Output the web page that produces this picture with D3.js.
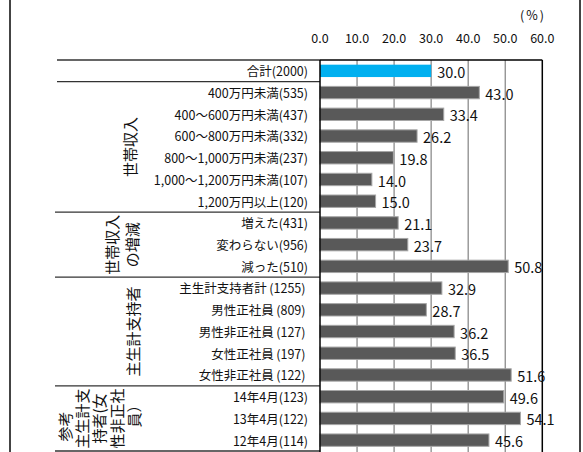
<!DOCTYPE html>
<html><head><meta charset="utf-8">
<script src="https://cdn.jsdelivr.net/npm/d3@7"></script>
<style>
html,body{margin:0;padding:0;background:#fff;}
svg{display:block;font-family:"Noto Sans CJK JP","Noto Sans",sans-serif;}
</style></head>
<body>
<svg id="c" width="583" height="452"></svg>
<script>
const categories = ["合計(2000)", "400万円未満(535)", "400～600万円未満(437)", "600～800万円未満(332)", "800～1,000万円未満(237)", "1,000～1,200万円未満(107)", "1,200万円以上(120)", "増えた(431)", "変わらない(956)", "減った(510)", "主生計支持者計\u2009(1255)\u2009", "男性正社員\u2009(809)\u2009", "男性非正社員\u2009(127)\u2009", "女性正社員\u2009(197)\u2009", "女性非正社員\u2009(122)\u2009", "14年4月(123)", "13年4月(122)", "12年4月(114)"];
const values = [30.0, 43.0, 33.4, 26.2, 19.8, 14.0, 15.0, 21.1, 23.7, 50.8, 32.9, 28.7, 36.2, 36.5, 51.6, 49.6, 54.1, 45.6];
const tickValues = [0, 10, 20, 30, 40, 50, 60];
const tickLabels = ["0.0", "10.0", "20.0", "30.0", "40.0", "50.0", "60.0"];
const groupStarts = [0, 1, 7, 10, 15, 18];
const groupLabels = [["世帯収入"], ["世帯収入", "の増減"], ["主生計支持者"], ["参考", "主生計支", "持者(女", "性非正社", "員）"]];
const groupRanges = [[1, 7], [7, 10], [10, 15], [15, 18]];
const unitLabel = "(%)";

const svg = d3.select("#c");
const x = d3.scaleLinear().domain([0, 60]).range([320, 542.3]);
const p = 0.43;
const y = d3.scaleBand().domain(categories).range([60, 451]).paddingInner(p).paddingOuter(p / 2);
const step = y.step();
const rowTop = i => 60 + i * step;

// outer frame
svg.append("line").attr("x1", 10).attr("x2", 10).attr("y1", 0).attr("y2", 452).attr("stroke", "#444").attr("stroke-width", 2);
svg.append("line").attr("x1", 580).attr("x2", 580).attr("y1", 0).attr("y2", 452).attr("stroke", "#444").attr("stroke-width", 2);

// gridlines
svg.append("g").selectAll("line").data(tickValues.slice(1, -1)).join("line")
  .attr("x1", d => x(d)).attr("x2", d => x(d)).attr("y1", 60).attr("y2", 452)
  .attr("stroke", "#8c8c8c").attr("stroke-width", 1.3);

// table separator lines
svg.append("g").selectAll("line").data(groupStarts).join("line")
  .attr("x1", (d, i) => i < 2 ? 57 : 55).attr("x2", 320)
  .attr("y1", d => rowTop(d)).attr("y2", d => rowTop(d))
  .attr("stroke", "#333").attr("stroke-width", 1.3);

// bars
svg.append("g").selectAll("rect").data(values).join("rect")
  .attr("x", x(0)).attr("y", (d, i) => y(categories[i]))
  .attr("width", d => x(d) - x(0)).attr("height", y.bandwidth())
  .attr("fill", (d, i) => i === 0 ? "#00b0f0" : "#595959")
  .attr("stroke", (d, i) => i === 0 ? "none" : "#a6a6a6").attr("stroke-width", 1);

// plot border (top, right, left axis)
svg.append("line").attr("x1", x(0)).attr("x2", x(60)).attr("y1", 60).attr("y2", 60).attr("stroke", "#000").attr("stroke-width", 1.5);
svg.append("line").attr("x1", x(60)).attr("x2", x(60)).attr("y1", 60).attr("y2", 452).attr("stroke", "#000").attr("stroke-width", 1.5);
svg.append("line").attr("x1", x(0)).attr("x2", x(0)).attr("y1", 60).attr("y2", 452).attr("stroke", "#000").attr("stroke-width", 1.5);

// tick labels
svg.append("g").selectAll("text").data(tickValues).join("text")
  .attr("x", d => x(d)).attr("y", 38.5).attr("dy", "0.35em")
  .attr("text-anchor", "middle").attr("font-size", 12.5).attr("fill", "#111")
  .text((d, i) => tickLabels[i]);

svg.append("text").attr("x", 533).attr("y", 16).attr("dy", "0.35em")
  .attr("text-anchor", "middle").attr("font-size", 12.5).attr("letter-spacing", 2).attr("fill", "#111").text(unitLabel);

// category labels
svg.append("g").selectAll("text").data(categories).join("text")
  .attr("x", 308).attr("y", d => y(d) + y.bandwidth() / 2 + 1).attr("dy", "0.35em")
  .attr("text-anchor", "end").attr("font-size", 12.5).attr("fill", "#111")
  .text(d => d);

// value labels
svg.append("g").selectAll("text").data(values).join("text")
  .attr("x", d => x(d) + 6).attr("y", (d, i) => y(categories[i]) + y.bandwidth() / 2 + 2).attr("dy", "0.35em")
  .attr("font-size", 14.5).attr("fill", "#111")
  .text(d => d.toFixed(1));

// group labels (rotated)
const groupX = [[131], [113, 133], [134], [66, 83, 100, 118, 135]];
const groupShift = [[0], [0, 0], [0], [8, 0, 0, 0, -6]];
groupLabels.forEach((lines, gi) => {
  const [a, b] = groupRanges[gi];
  const cy = (rowTop(a) + rowTop(b)) / 2;
  lines.forEach((t, li) => {
    const cx = groupX[gi][li];
    svg.append("text")
      .attr("transform", `translate(${cx},${cy + groupShift[gi][li]}) rotate(-90)`)
      .attr("text-anchor", "middle").attr("dy", "0.35em")
      .attr("font-size", 15).attr("fill", "#111")
      .text(t);
  });
});
</script>
</body></html>
